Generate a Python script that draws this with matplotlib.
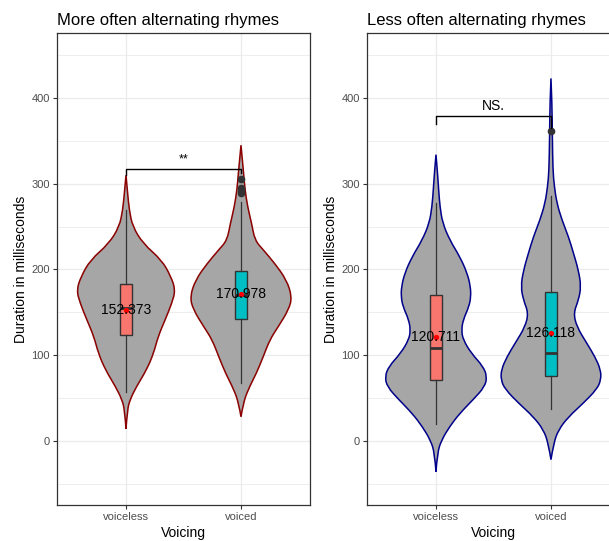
"""
    Violines de duración por sonoridad
"""
import matplotlib
matplotlib.use('Agg')
import matplotlib.pyplot as plt
from matplotlib.path import Path
from matplotlib.patches import PathPatch

plt.rcParams['font.family'] = ['Liberation Sans', 'DejaVu Sans']

titles = ['More often alternating rhymes', 'Less often alternating rhymes']
categories = ['voiceless', 'voiced']
outline_colors = ['#8B0000', '#00008B']
box_colors = ['#F8766D', '#00BFC4']

# perfiles de los violines (valor, semiancho)
more_voiceless_y = [310, 289, 269, 250, 230, 211, 192, 176, 161, 141, 122, 102, 83, 63, 48, 36, 14]
more_voiceless_w = [0, .014, .029, .058, .15, .31, .39, .43, .40, .34, .28, .24, .18, .09, .035, .012, 0]
more_voiced_y = [345, 328, 312, 293, 273, 254, 234, 223, 207, 188, 168, 153, 133, 118, 98, 79, 60, 44, 28]
more_voiced_w = [0, .012, .023, .035, .058, .092, .121, .193, .294, .395, .444, .415, .323, .251, .193, .135,
                 .063, .020, 0]
less_voiceless_y = [334, 312, 293, 273, 254, 234, 215, 196, 180, 168, 157, 141, 129, 118, 102, 87, 75, 63, 48,
                    32, 17, 1, -14, -36]
less_voiceless_w = [0, .014, .023, .035, .058, .121, .207, .271, .300, .303, .288, .236, .222, .236, .308, .409,
                    .444, .424, .323, .207, .121, .049, .012, 0]
less_voiced_y = [423, 394, 355, 316, 297, 277, 258, 238, 219, 199, 180, 164, 149, 133, 114, 98, 83, 71, 60, 44,
                 28, 13, -3, -22]
less_voiced_w = [0, .009, .012, .017, .029, .052, .095, .153, .196, .239, .262, .239, .196, .225, .311, .383,
                 .432, .435, .398, .282, .153, .066, .023, 0]

# estadísticos de las cajas
more_q1 = [124, 142]
more_med = [155, 170]
more_q3 = [183, 198]
more_lo = [57, 68]
more_hi = [269, 279]
more_fliers = [[], [305, 295, 291, 289]]
more_mean = [152.373, 170.978]

less_q1 = [71, 76]
less_med = [108, 103]
less_q3 = [170, 174]
less_lo = [19, 37]
less_hi = [278, 286]
less_fliers = [[], [362]]
less_mean = [120.711, 126.118]

# comparaciones
more_sig = '**'
more_bracket = [310, 317, 317, 312]
less_sig = 'NS.'
less_bracket = [370, 379, 379, 365]

panels = [
    (titles[0], [more_voiceless_y, more_voiced_y], [more_voiceless_w, more_voiced_w],
     more_q1, more_med, more_q3, more_lo, more_hi, more_fliers, more_mean, more_sig, more_bracket,
     outline_colors[0], 0.0936),
    (titles[1], [less_voiceless_y, less_voiced_y], [less_voiceless_w, less_voiced_w],
     less_q1, less_med, less_q3, less_lo, less_hi, less_fliers, less_mean, less_sig, less_bracket,
     outline_colors[1], 0.6026),
]


def smooth_side(pts, verts, codes):
    """Añade un lado del violín con curvas cuadráticas, extremos incluidos"""
    for i in range(1, len(pts) - 1):
        mid = ((pts[i][0] + pts[i + 1][0]) / 2, (pts[i][1] + pts[i + 1][1]) / 2)
        if i == len(pts) - 2:
            mid = pts[-1]
        verts += [pts[i], mid]
        codes += [Path.CURVE3, Path.CURVE3]


def violin_path(p, vy, vw):
    """Contorno suavizado del violín centrado en p"""
    right = [(p + w, y) for y, w in zip(vy, vw)]
    left = [(p - w, y) for y, w in zip(vy[::-1], vw[::-1])]
    verts = [right[0]]
    codes = [Path.MOVETO]
    smooth_side(right, verts, codes)
    smooth_side(left, verts, codes)
    verts.append(right[0])
    codes.append(Path.CLOSEPOLY)
    return Path(verts, codes)


fig = plt.figure(figsize=(6.09, 5.41), dpi=100)

for (title, vys, vws, q1, med, q3, lo, hi, fliers, mean, sig, bracket, edge, left) in panels:
    ax = fig.add_axes([left, 0.0665, 0.4154, 0.8725])
    ax.set_axisbelow(True)
    pos = [1, 2]
    for p, vy, vw in zip(pos, vys, vws):
        ax.add_patch(PathPatch(violin_path(p, vy, vw), facecolor='#A6A6A6', edgecolor=edge,
                               linewidth=1.1, zorder=2))
    stats = []
    for i in range(2):
        stats.append({'med': med[i], 'q1': q1[i], 'q3': q3[i], 'whislo': lo[i], 'whishi': hi[i],
                      'fliers': fliers[i], 'mean': mean[i]})
    bp = ax.bxp(stats, positions=pos, widths=0.1, patch_artist=True, showmeans=True,
                boxprops=dict(edgecolor='#333333', linewidth=1.0),
                medianprops=dict(color='#333333', linewidth=2.0),
                whiskerprops=dict(color='#333333', linewidth=0.9),
                capprops=dict(linewidth=0),
                flierprops=dict(marker='o', markerfacecolor='#333333', markeredgecolor='#333333',
                                markersize=4.5),
                meanprops=dict(marker='o', markerfacecolor='red', markeredgecolor='red', markersize=2.8),
                zorder=3)
    for patch, c in zip(bp['boxes'], box_colors):
        patch.set_facecolor(c)
    for p, m in zip(pos, mean):
        ax.text(p, m, f'{m:.3f}', ha='center', va='center', fontsize=10, color='black', zorder=5)

    # corchete de significancia
    ax.plot([1, 1, 2, 2], bracket, color='black', linewidth=1.0, zorder=4)
    ax.text(1.5, bracket[1] + 4, sig, ha='center', va='bottom', fontsize=10 if sig == 'NS.' else 9)

    ax.set_xlim(0.4, 2.6)
    ax.set_ylim(-75, 476)
    ax.set_xticks(pos)
    ax.set_xticklabels(categories)
    ax.set_yticks([0, 100, 200, 300, 400])
    ax.set_yticks([-50, 50, 150, 250, 350, 450], minor=True)
    ax.grid(True, which='major', color='#EBEBEB', linewidth=0.9)
    ax.grid(True, which='minor', axis='y', color='#EBEBEB', linewidth=0.6)
    ax.tick_params(which='major', length=3, width=0.8, color='#333333', labelcolor='#4D4D4D',
                   labelsize=8, pad=2)
    ax.tick_params(which='minor', length=0)
    for s in ax.spines.values():
        s.set_color('#333333')
        s.set_linewidth(0.9)

    ax.set_title(title, loc='left', fontsize=12, pad=6)
    ax.set_xlabel('Voicing', fontsize=10, labelpad=3)
    ax.set_ylabel('Duration in milliseconds', fontsize=10)
    ax.yaxis.set_label_coords(-0.115, 0.5)

plt.savefig('out.png', dpi=100)
